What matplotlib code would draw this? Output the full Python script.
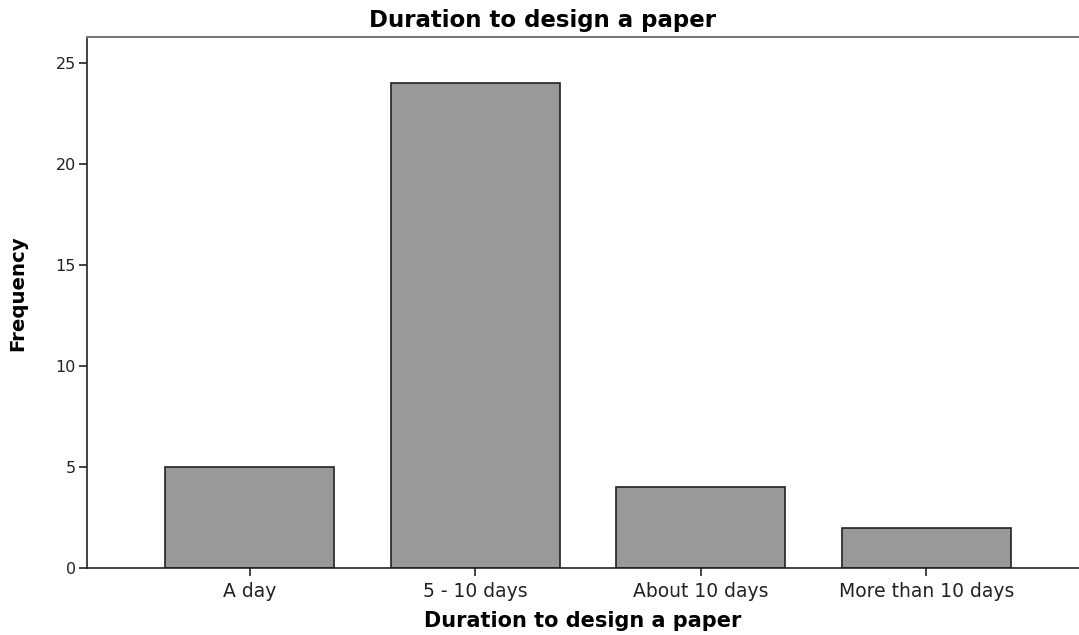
import numpy as np
import matplotlib.pyplot as plt

plt.rcParams['font.family'] = ['DejaVu Sans']

categories = ["A day", "5 - 10 days", "About 10 days", "More than 10 days"]
frequency = [5, 24, 4, 2]
yticks = [0, 5, 10, 15, 20, 25]


def main():
    fig = plt.figure(figsize=(10.79, 6.35), dpi=100)
    ax = fig.add_axes([0.0806, 0.1055, 0.9194, 0.8362])

    x = np.arange(len(categories))
    ax.bar(x, frequency, width=0.75, color="#999999", edgecolor="#222222", linewidth=1.2)

    ax.set_xlim(-0.721, 3.676)
    ax.set_ylim(0, 26.29)
    ax.set_xticks(x)
    ax.set_xticklabels(categories, fontsize=13.5, color="#222222")
    ax.set_yticks(yticks)
    ax.set_yticklabels([str(v) for v in yticks], fontsize=11.5, color="#222222")
    ax.tick_params(axis="both", length=6, width=1.2, color="#222222")
    ax.tick_params(axis="x", pad=4)
    ax.tick_params(axis="y", pad=2)

    ax.spines["right"].set_visible(False)
    ax.spines["top"].set_color("#777777")
    ax.spines["top"].set_linewidth(1.5)
    for s in ["left", "bottom"]:
        ax.spines[s].set_color("#222222")
        ax.spines[s].set_linewidth(1.2)

    # title is centred on the figure, not the axes
    fig.text(0.503, 0.968, "Duration to design a paper", fontsize=16.5,
             fontweight="bold", ha="center", va="center")
    ax.set_xlabel("Duration to design a paper", fontsize=15, fontweight="bold", labelpad=7)
    ax.set_ylabel("Frequency", fontsize=14.2, fontweight="bold")
    ax.yaxis.set_label_coords(-0.0605, 0.517)

    fig.savefig("out.png", dpi=100)


main()
